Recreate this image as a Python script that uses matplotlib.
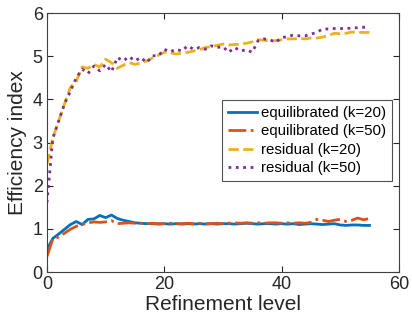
import numpy as np
import matplotlib.pyplot as plt

plt.rcParams['font.family'] = ['Liberation Sans', 'DejaVu Sans']

# refinement levels 0..55
levels = np.arange(56)

eq_k20 = [0.52, 0.78, 0.88, 0.99, 1.10, 1.17, 1.10, 1.22, 1.23, 1.31,
          1.26, 1.32, 1.24, 1.20, 1.17, 1.14, 1.13, 1.12, 1.12, 1.11,
          1.12, 1.11, 1.12, 1.11, 1.12, 1.11, 1.12, 1.11, 1.12, 1.11,
          1.12, 1.12, 1.11, 1.12, 1.13, 1.12, 1.11, 1.12, 1.12, 1.11,
          1.12, 1.11, 1.12, 1.10, 1.11, 1.12, 1.11, 1.10, 1.11, 1.12,
          1.09, 1.08, 1.09, 1.09, 1.08, 1.08]

eq_k50 = [0.36, 0.77, 0.81, 0.90, 0.99, 1.06, 1.10, 1.14, 1.16, 1.15,
          1.16, 1.19, 1.12, 1.13, 1.14, 1.13, 1.13, 1.12, 1.13, 1.12,
          1.12, 1.13, 1.12, 1.12, 1.13, 1.12, 1.13, 1.12, 1.12, 1.13,
          1.12, 1.13, 1.14, 1.13, 1.14, 1.13, 1.14, 1.13, 1.14, 1.14,
          1.13, 1.14, 1.13, 1.14, 1.13, 1.15, 1.22, 1.20, 1.17, 1.20,
          1.22, 1.17, 1.20, 1.25, 1.21, 1.24]

res_k20 = [2.50, 3.10, 3.50, 3.90, 4.28, 4.42, 4.75, 4.72, 4.81, 4.75,
           4.93, 4.85, 4.72, 4.79, 4.85, 4.81, 4.84, 4.89, 4.96, 5.02,
           5.09, 5.08, 5.05, 5.07, 5.09, 5.12, 5.15, 5.20, 5.22, 5.25,
           5.28, 5.26, 5.27, 5.28, 5.30, 5.33, 5.38, 5.37, 5.35, 5.36,
           5.38, 5.40, 5.40, 5.41, 5.40, 5.42, 5.42, 5.44, 5.48, 5.53,
           5.52, 5.53, 5.56, 5.55, 5.55, 5.55]

res_k50 = [1.61, 3.10, 3.50, 3.90, 4.19, 4.50, 4.70, 4.60, 4.77, 4.66,
           4.81, 4.64, 4.97, 4.89, 4.99, 4.89, 4.97, 4.85, 5.01, 5.01,
           5.16, 5.10, 5.16, 5.12, 5.24, 5.16, 5.20, 5.16, 5.24, 5.20,
           5.22, 5.09, 5.20, 5.12, 5.15, 5.09, 5.36, 5.40, 5.38, 5.32,
           5.43, 5.45, 5.49, 5.47, 5.47, 5.51, 5.55, 5.63, 5.63, 5.64,
           5.64, 5.64, 5.65, 5.66, 5.67, 5.67]

fig = plt.figure(figsize=(4.12, 3.25), dpi=100)
ax = fig.add_axes([0.114, 0.163, 0.854, 0.797])

ax.plot(levels, eq_k20, '-', color='#0072BD', lw=2, label='equilibrated (k=20)')
ax.plot(levels, eq_k50, '-.', color='#D95319', lw=2, label='equilibrated (k=50)')
ax.plot(levels, res_k20, '--', color='#EDB120', lw=2, label='residual (k=20)')
ax.plot(levels, res_k50, ':', color='#7E2F8E', lw=2, label='residual (k=50)')

ax.set_xlim(0, 60)
ax.set_ylim(0, 6)
ax.set_xticks([0, 20, 40, 60])
ax.set_yticks(range(7))
ax.set_xlabel('Refinement level', fontsize=15, color='#262626', labelpad=1)
ax.set_ylabel('Efficiency index', fontsize=15, color='#262626', labelpad=4)

ax.tick_params(direction='in', top=True, right=True, labelsize=13,
               colors='#262626', length=4, width=0.8, pad=3)
for s in ax.spines.values():
    s.set_color('#404040')
    s.set_linewidth(0.8)

leg = ax.legend(loc='upper right', bbox_to_anchor=(0.98, 0.665), fontsize=10.8,
                frameon=True, fancybox=False, handlelength=1.9,
                handletextpad=0.25, borderpad=0.4, labelspacing=0.3,
                borderaxespad=0)
leg.get_frame().set_edgecolor('#262626')
leg.get_frame().set_linewidth(0.8)

fig.savefig('out.png', dpi=100)
